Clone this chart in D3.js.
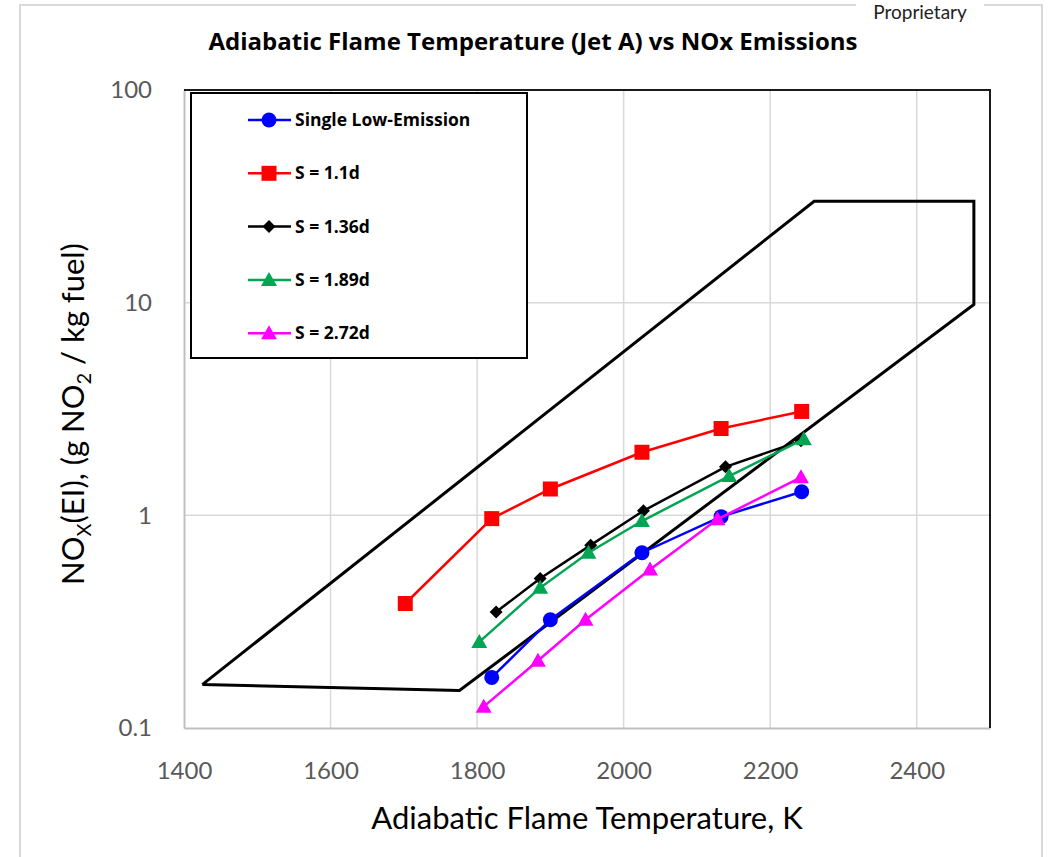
<!DOCTYPE html>
<html>
<head>
<meta charset="utf-8">
<script src="https://cdn.jsdelivr.net/npm/d3@7"></script>
<style>
  body { margin: 0; background: #fff; }
  svg { display: block; font-family: Lato, "Open Sans", sans-serif; }
</style>
</head>
<body>
<div class="chart"></div>
<script>
// tick values
const xTicks = [1400, 1600, 1800, 2000, 2200, 2400];
const yTicks = [0.1, 1, 10, 100];

// series, temperature (K) and NOx EI (g NO2 / kg fuel)
const singleT = [1820, 1900, 2025, 2133, 2243];
const singleNox = [0.173, 0.323, 0.667, 0.986, 1.29];

const s11T = [1702, 1820, 1900, 2025, 2133, 2243];
const s11Nox = [0.385, 0.965, 1.33, 1.98, 2.56, 3.08];

const s136T = [1826, 1886, 1955, 2027, 2139, 2242];
const s136Nox = [0.351, 0.505, 0.724, 1.05, 1.69, 2.24];

const s189T = [1803, 1886, 1952, 2025, 2144, 2246];
const s189Nox = [0.254, 0.456, 0.667, 0.94, 1.53, 2.28];

const s272T = [1809, 1883, 1948, 2036, 2128, 2242];
const s272Nox = [0.126, 0.207, 0.323, 0.556, 0.958, 1.51];

// the envelope outline
const envT = [1425, 1776, 2478, 2478, 2260, 1425];
const envNox = [0.16, 0.15, 9.8, 30, 30, 0.16];

const series = [
  {name: "Single Low-Emission", t: singleT, v: singleNox, color: "#0000ff", marker: "circle"},
  {name: "S = 1.1d", t: s11T, v: s11Nox, color: "#ff0000", marker: "square"},
  {name: "S = 1.36d", t: s136T, v: s136Nox, color: "#000000", marker: "diamond"},
  {name: "S = 1.89d", t: s189T, v: s189Nox, color: "#00a651", marker: "triangle"},
  {name: "S = 2.72d", t: s272T, v: s272Nox, color: "#ff00ff", marker: "triangle"}
];

const W = 1053, H = 857;
const svg = d3.select(".chart").append("svg")
  .attr("width", W)
  .attr("height", H);

// outer chart frame
svg.append("rect")
  .attr("x", 20).attr("y", 5)
  .attr("width", 1022).attr("height", 900)
  .attr("fill", "none")
  .attr("stroke", "#d9d9d9")
  .attr("stroke-width", 2);

// "Proprietary" stamp at the top edge
svg.append("rect").attr("x", 856).attr("y", 0).attr("width", 128).attr("height", 14).attr("fill", "#fff");
svg.append("text")
  .attr("x", 920).attr("y", 19)
  .attr("text-anchor", "middle")
  .attr("font-size", 19)
  .attr("fill", "#222")
  .text("Proprietary");

const x = d3.scaleLinear().domain([1400, 2500]).range([184, 990]);
const y = d3.scaleLog().domain([0.1, 100]).range([728, 90]);

// gridlines
svg.append("g").selectAll("line")
  .data(xTicks.slice(1))
  .enter().append("line")
  .attr("x1", d => x(d)).attr("x2", d => x(d))
  .attr("y1", y(100)).attr("y2", y(0.1))
  .attr("stroke", "#d9d9d9").attr("stroke-width", 1.5);

svg.append("g").selectAll("line")
  .data([1, 10])
  .enter().append("line")
  .attr("x1", x(1400)).attr("x2", x(2500))
  .attr("y1", d => y(d)).attr("y2", d => y(d))
  .attr("stroke", "#d9d9d9").attr("stroke-width", 1.5);

// axes
const xAxis = svg.append("g")
  .attr("transform", `translate(0,${y(0.1)})`)
  .call(d3.axisBottom(x).tickValues(xTicks).tickSize(0).tickPadding(34).tickFormat(d3.format("d")));
const yAxis = svg.append("g")
  .attr("transform", `translate(${x(1400)},0)`)
  .call(d3.axisLeft(y).tickValues(yTicks).tickSize(0).tickPadding(32).tickFormat(d => d));

[xAxis, yAxis].forEach(a => {
  a.select(".domain").attr("stroke", "#bfbfbf").attr("stroke-width", 2);
  a.selectAll("text").attr("font-size", 24).attr("fill", "#595959").attr("font-family", "Lato, sans-serif");
});

// plot frame top and right (dark)
svg.append("path")
  .attr("d", `M${x(1400)},${y(100)}H${x(2500)}V${y(0.1)}`)
  .attr("fill", "none")
  .attr("stroke", "#1a1a1a")
  .attr("stroke-width", 2);

// envelope
const envLine = d3.line().x(d => x(d[0])).y(d => y(d[1]));
svg.append("path")
  .attr("d", envLine(envT.map((t, i) => [t, envNox[i]])))
  .attr("fill", "none")
  .attr("stroke", "#000")
  .attr("stroke-width", 3)
  .attr("stroke-linejoin", "miter");

// marker helper
function drawMarker(g, type, color, cx, cy) {
  if (type == "circle") {
    g.append("circle").attr("cx", cx).attr("cy", cy).attr("r", 7.5).attr("fill", color);
  } else if (type == "square") {
    g.append("rect").attr("x", cx - 7.5).attr("y", cy - 7.5).attr("width", 15).attr("height", 15).attr("fill", color);
  } else if (type == "diamond") {
    g.append("path").attr("d", `M${cx},${cy - 6.5}L${cx + 6.5},${cy}L${cx},${cy + 6.5}L${cx - 6.5},${cy}Z`).attr("fill", color);
  } else {
    g.append("path").attr("d", `M${cx},${cy - 8}L${cx + 8},${cy + 6}L${cx - 8},${cy + 6}Z`).attr("fill", color);
  }
}

// series lines and markers
series.forEach(s => {
  const pts = s.t.map((t, i) => [t, s.v[i]]);
  const g = svg.append("g");
  g.append("path")
    .attr("d", envLine(pts))
    .attr("fill", "none")
    .attr("stroke", s.color)
    .attr("stroke-width", 2.5);
  pts.forEach(p => drawMarker(g, s.marker, s.color, x(p[0]), y(p[1])));
});

// legend
const legend = svg.append("g");
legend.append("rect")
  .attr("x", 191).attr("y", 93)
  .attr("width", 336).attr("height", 265)
  .attr("fill", "#fff")
  .attr("stroke", "#000")
  .attr("stroke-width", 2);

series.forEach((s, i) => {
  const ly = 120 + i * 53.3;
  legend.append("line")
    .attr("x1", 248).attr("x2", 291)
    .attr("y1", ly).attr("y2", ly)
    .attr("stroke", s.color).attr("stroke-width", 2.5);
  drawMarker(legend, s.marker, s.color, 269, ly);
  legend.append("text")
    .attr("x", 295).attr("y", ly + 6)
    .attr("font-family", "'Open Sans', sans-serif")
    .attr("font-size", 17.5)
    .attr("font-weight", "bold")
    .attr("fill", "#000")
    .text(s.name);
});

// titles
svg.append("text")
  .attr("x", 533).attr("y", 50)
  .attr("text-anchor", "middle")
  .attr("font-family", "'Open Sans', sans-serif")
  .attr("font-size", 24)
  .attr("font-weight", "bold")
  .text("Adiabatic Flame Temperature (Jet A) vs NOx Emissions");

svg.append("text")
  .attr("x", 587).attr("y", 829)
  .attr("text-anchor", "middle")
  .attr("font-size", 31)
  .text("Adiabatic Flame Temperature, K");

const yt = svg.append("text")
  .attr("transform", "translate(84,414) rotate(-90)")
  .attr("text-anchor", "middle")
  .attr("font-size", 31);
yt.append("tspan").text("NO");
yt.append("tspan").attr("font-size", 20).attr("dy", 7).text("X");
yt.append("tspan").attr("dy", -7).text("(EI), (g NO");
yt.append("tspan").attr("font-size", 20).attr("dy", 7).text("2");
yt.append("tspan").attr("dy", -7).text(" / kg fuel)");
</script>
</body>
</html>
